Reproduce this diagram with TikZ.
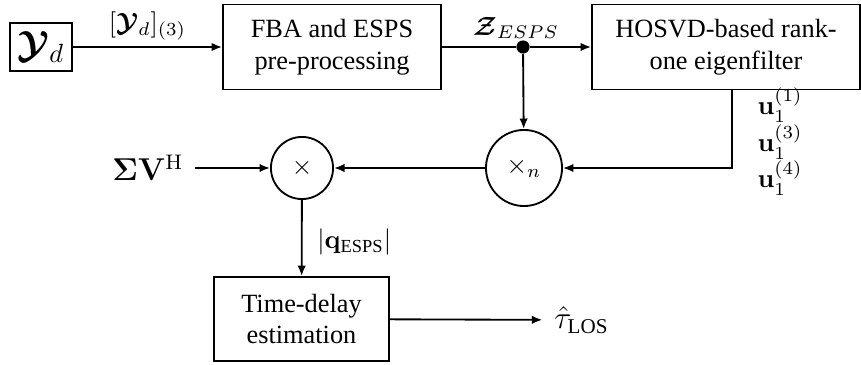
\documentclass[tikz,border=0pt]{standalone}
\usepackage{amsmath}
\usepackage{bm}
\usepackage[no-math]{fontspec}
\setmainfont{Liberation Serif}
\usetikzlibrary{arrows.meta}
\begin{document}
\begin{tikzpicture}[x=0.38pt,y=-0.38pt,
  blk/.style={draw, line width=0.7pt, align=center, inner sep=0pt},
  op/.style={draw, circle, line width=0.7pt, inner sep=0pt},
  junction/.style={circle, fill, inner sep=0pt, minimum size=5pt},
  arr/.style={-{Latex[length=4pt,width=3.2pt]}, line width=0.7pt},
  ln/.style={line width=0.7pt}]
\useasboundingbox (0,0) rectangle (861,365);
\node[blk, minimum width=23.6pt, minimum height=18.2pt] (yd) at (41,47) {\Large$\bm{\mathcal{Y}}_d$};
\node[blk, minimum width=82.8pt, minimum height=32.3pt] (fba) at (332,47) {FBA and ESPS\\pre-processing};
\node[blk, minimum width=101.8pt, minimum height=32.3pt] (hos) at (726,47) {HOSVD-based rank-\\one eigenfilter};
\node[junction] (dot) at (523,47) {};
\node (z) at (516,28) {$\bm{\mathcal{Z}}_{ESPS}$};
\node[op, minimum size=28.9pt] (xn) at (524,168) {$\times_n$};
\node[op, minimum size=23.6pt] (mul) at (302,168) {$\times$};
\node (sv) at (148,168) {\large$\bm{\Sigma}\mathbf{V}^{\mathrm{H}}$};
\node[blk, minimum width=66.5pt, minimum height=31.9pt] (td) at (301.5,319) {Time-delay\\estimation};
\node[anchor=west] (tau) at (545,320) {\large$\hat{\tau}_{\text{LOS}}$};
\node[anchor=west] (q) at (308,242) {$|\mathbf{q}_{\text{ESPS}}|$};
\node[anchor=base west, inner sep=0pt] (u1) at (757,115) {$\mathbf{u}_1^{(1)}$};
\node[anchor=base west, inner sep=0pt] (u3) at (757,152) {$\mathbf{u}_1^{(3)}$};
\node[anchor=base west, inner sep=0pt] (u4) at (757,188) {$\mathbf{u}_1^{(4)}$};
\draw[arr] (yd) -- node[midway, yshift=8pt] (lab) {$[\bm{\mathcal{Y}}_d]_{(3)}$} (fba);
\draw[ln] (fba) -- (dot);
\draw[arr] (dot) -- (hos);
\draw[arr] (dot) -- (xn);
\draw[arr] ([xshift=2.3pt]hos.south) |- (xn);
\draw[arr] (xn) -- (mul);
\draw[arr, shorten <=1pt] (sv) -- (mul);
\draw[arr] (mul) -- (td);
\draw[arr, shorten >=1pt] (td) -- (tau);
\end{tikzpicture}
\end{document}
